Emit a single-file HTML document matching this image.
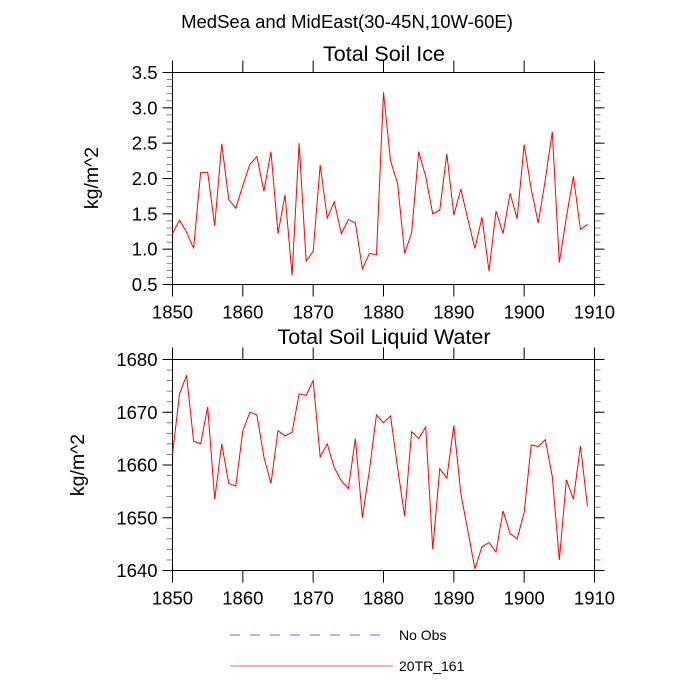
<!DOCTYPE html>
<html><head><meta charset="utf-8"><style>
html,body{margin:0;padding:0;background:#fff;}
svg{display:block;font-family:"Liberation Sans",sans-serif;}
</style></head><body>
<svg id="c" width="700" height="700" viewBox="0 0 700 700">
<text x="347" y="28" text-anchor="middle" font-size="18.5">MedSea and MidEast(30-45N,10W-60E)</text>
<text x="384" y="61" text-anchor="middle" font-size="21.5">Total Soil Ice</text>
<text x="384" y="344" text-anchor="middle" font-size="21.5">Total Soil Liquid Water</text>
<text transform="translate(98,178) rotate(-90)" text-anchor="middle" font-size="19.5">kg/m^2</text>
<text transform="translate(84,465) rotate(-90)" text-anchor="middle" font-size="19.5">kg/m^2</text>
<g id="top"></g>
<g id="bot"></g>
<line x1="230" y1="635" x2="386" y2="635" stroke="#6666ff" stroke-width="1" stroke-dasharray="10,10"/>
<text x="399" y="640" font-size="14">No Obs</text>
<line x1="230" y1="666" x2="393" y2="666" stroke="#ee6666" stroke-width="1"/>
<text x="399" y="671" font-size="14">20TR_161</text>
</svg>
<script>
const years = [];
for (let y = 1850; y <= 1909; y++) years.push(y);
const iceValues = [1.22,1.41,1.24,1.01,2.08,2.09,1.33,2.49,1.70,1.58,1.90,2.20,2.31,1.82,2.38,1.22,1.77,0.63,2.50,0.83,0.97,2.19,1.44,1.67,1.22,1.42,1.37,0.72,0.94,0.92,3.22,2.25,1.93,0.94,1.23,2.38,2.03,1.50,1.55,2.35,1.48,1.85,1.42,1.01,1.45,0.69,1.54,1.22,1.79,1.43,2.48,1.85,1.37,1.98,2.66,0.81,1.45,2.03,1.28,1.35];
const liqValues = [1662,1673.5,1677,1664.5,1664,1671,1653.5,1664,1656.5,1656,1666.5,1670,1669.5,1661.5,1656.5,1666.5,1665.5,1666.2,1673.5,1673.2,1676,1661.5,1664,1659.5,1657,1655.5,1665,1650,1659,1669.5,1668,1669.3,1659.5,1650.3,1666.3,1665,1667.2,1644,1659.3,1657.5,1667.5,1654.5,1647.5,1640.3,1644.5,1645.3,1643.5,1651.3,1647,1646,1651,1663.8,1663.5,1664.8,1657.8,1642,1657.2,1653.5,1663.6,1652.2];
const xTicks = [1850,1860,1870,1880,1890,1900,1910];
const iceTicks = [0.5,1.0,1.5,2.0,2.5,3.0,3.5];
const liqTicks = [1640,1650,1660,1670,1680];
const NS = "http://www.w3.org/2000/svg";
function mk(tag, attrs, parent){const e=document.createElementNS(NS,tag);for(const k in attrs)e.setAttribute(k,attrs[k]);parent.appendChild(e);return e;}
function panel(g, top, bottom, ymin, ymax, yTicks, minorStep, vals, fmt, name){
  const L=172.5,R=594.5;
  const xs=v=>L+(v-1850)/60*(R-L);
  const ys=v=>bottom-(v-ymin)/(ymax-ymin)*(bottom-top);
  const fr=mk('rect',{x:L,y:top,width:R-L,height:bottom-top,fill:'none',stroke:'#000','stroke-width':1},g);
  
  
  for(const t of xTicks){
    const x=xs(t);
    mk('line',{x1:x,y1:top,x2:x,y2:top-12,stroke:'#000'},g);
    mk('line',{x1:x,y1:bottom,x2:x,y2:bottom+12,stroke:'#000'},g);
    const tx=mk('text',{x:x,y:bottom+34,'text-anchor':'middle','font-size':18.5},g);
    tx.textContent=t;
    
    
  }
  for(let v=ymin; v<=ymax+1e-9; v+=minorStep){
    const y=ys(v);
    mk('line',{x1:L,y1:y,x2:L-6,y2:y,stroke:'#666','stroke-width':0.8},g);
    mk('line',{x1:R,y1:y,x2:R+6,y2:y,stroke:'#666','stroke-width':0.8},g);
  }
  for(const t of yTicks){
    const y=ys(t);
    mk('line',{x1:L,y1:y,x2:L-10,y2:y,stroke:'#000'},g);
    mk('line',{x1:R,y1:y,x2:R+10,y2:y,stroke:'#000'},g);
    const tx=mk('text',{x:L-15,y:y+6.5,'text-anchor':'end','font-size':18.5},g);
    tx.textContent=fmt(t);
    
    
  }
  const pts=vals.map((v,i)=>xs(years[i]).toFixed(2)+','+ys(v).toFixed(2)).join(' ');
  const pl=mk('polyline',{points:pts,fill:'none',stroke:'#ff0000','stroke-width':1},g);
  
  
}
panel(document.getElementById('top'),72.5,284.5,0.5,3.5,iceTicks,0.1,iceValues,v=>v.toFixed(1),'top');
panel(document.getElementById('bot'),359.5,570.5,1640,1680,liqTicks,2,liqValues,v=>String(v),'bottom');
</script>
</body></html>
